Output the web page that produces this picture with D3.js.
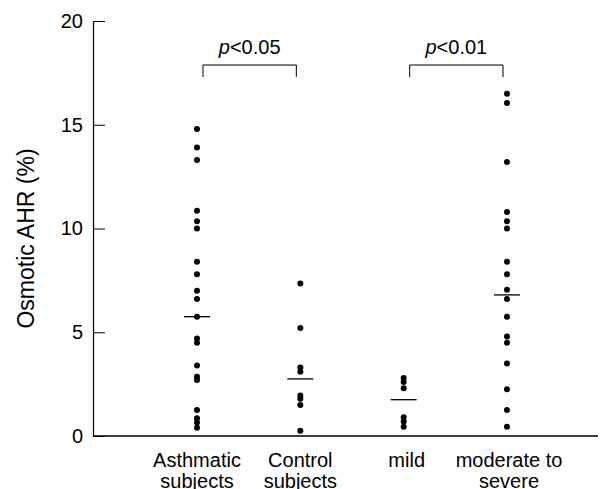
<!DOCTYPE html>
<html>
<head>
<meta charset="utf-8">
<script src="https://cdn.jsdelivr.net/npm/d3@7"></script>
<style>
  html, body { margin: 0; padding: 0; background: #fff; }
  svg { display: block; font-family: "Liberation Sans", Arial, sans-serif; }
</style>
</head>
<body>
<svg id="chart" width="600" height="489"></svg>
<script>
// ---- data ----
const categories = ["Asthmatic subjects", "Control subjects", "mild", "moderate to severe"];
const categoryLines = [["Asthmatic", "subjects"], ["Control", "subjects"], ["mild"], ["moderate to", "severe"]];
const asthmatic = [14.8, 13.9, 13.3, 10.85, 10.35, 10.0, 8.4, 7.8, 7.0, 6.6, 5.75, 4.7, 4.5, 3.4, 2.85, 2.7, 1.25, 0.85, 0.65, 0.4];
const control = [7.35, 5.2, 3.3, 3.1, 1.95, 1.8, 1.5, 0.25];
const mild = [2.8, 2.6, 2.3, 0.9, 0.7, 0.45];
const moderate = [16.5, 16.05, 13.2, 10.8, 10.35, 10.0, 8.4, 7.8, 7.05, 6.6, 5.75, 4.8, 4.5, 3.5, 2.25, 1.25, 0.45];
const medians = [5.75, 2.75, 1.75, 6.8];
const yTicks = [0, 5, 10, 15, 20];
const comparisons = [
  { from: 0, to: 1, label: "0.05" },
  { from: 2, to: 3, label: "0.01" }
];
const yLabel = "Osmotic AHR (%)";

const series = [asthmatic, control, mild, moderate];

// ---- layout ----
const svg = d3.select("#chart");
const axisX = 93, yBottom = 436, yTop = 21, axisRight = 598;
const FS = 20;

const x = d3.scalePoint().domain(categories).range([197, 507]);
const y = d3.scaleLinear().domain([0, 20]).range([yBottom, yTop]);

// y axis
const yAxis = d3.axisLeft(y).tickValues(yTicks).tickSize(-12).tickSizeOuter(0).tickPadding(10).tickFormat(d3.format("d"));
const gy = svg.append("g").attr("transform", `translate(${axisX},0)`).call(yAxis);
gy.select(".domain").attr("stroke", "#000").attr("stroke-width", 1.2);
gy.selectAll(".tick line").attr("stroke", "#000").attr("stroke-width", 1);
gy.selectAll(".tick text").attr("font-size", FS).attr("fill", "#000")
  .attr("font-family", "'Liberation Sans', Arial, sans-serif");

// x baseline
svg.append("line").attr("x1", axisX).attr("x2", axisRight)
  .attr("y1", y(0)).attr("y2", y(0)).attr("stroke", "#000").attr("stroke-width", 1.4);

// y label
svg.append("text")
  .attr("transform", `translate(34,${(yTop + yBottom) / 2 + 10}) rotate(-90)`)
  .attr("text-anchor", "middle").attr("font-size", 23).text(yLabel);

// category labels
categories.forEach((c, i) => {
  const t = svg.append("text").attr("x", x(c)).attr("y", 467)
    .attr("text-anchor", "middle").attr("font-size", FS);
  categoryLines[i].forEach((ln, k) => {
    t.append("tspan").attr("x", x(c) + (i === 3 ? 2 : (i === 2 ? 3 : 0))).attr("dy", k === 0 ? 0 : 21).text(ln);
  });
});

// dots
series.forEach((vals, i) => {
  svg.append("g").selectAll("circle").data(vals).join("circle")
    .attr("cx", x(categories[i])).attr("cy", d => y(d)).attr("r", 3).attr("fill", "#000");
});

// median lines
svg.append("g").selectAll("line").data(medians).join("line")
  .attr("x1", (d, i) => x(categories[i]) - 13).attr("x2", (d, i) => x(categories[i]) + 13)
  .attr("y1", d => y(d)).attr("y2", d => y(d))
  .attr("stroke", "#000").attr("stroke-width", 1.3);

// significance brackets
const bTop = 65, bBottom = 77;
comparisons.forEach(cmp => {
  const x1 = x(categories[cmp.from]) + 6, x2 = x(categories[cmp.to]) - 4;
  svg.append("path")
    .attr("d", `M${x1},${bBottom}V${bTop}H${x2}V${bBottom}`)
    .attr("fill", "none").attr("stroke", "#000").attr("stroke-width", 1);
  const t = svg.append("text").attr("x", (x1 + x2) / 2).attr("y", 54)
    .attr("text-anchor", "middle").attr("font-size", FS);
  t.append("tspan").attr("font-style", "italic").text("p");
  t.append("tspan").text("<" + cmp.label);
});
</script>
</body>
</html>
